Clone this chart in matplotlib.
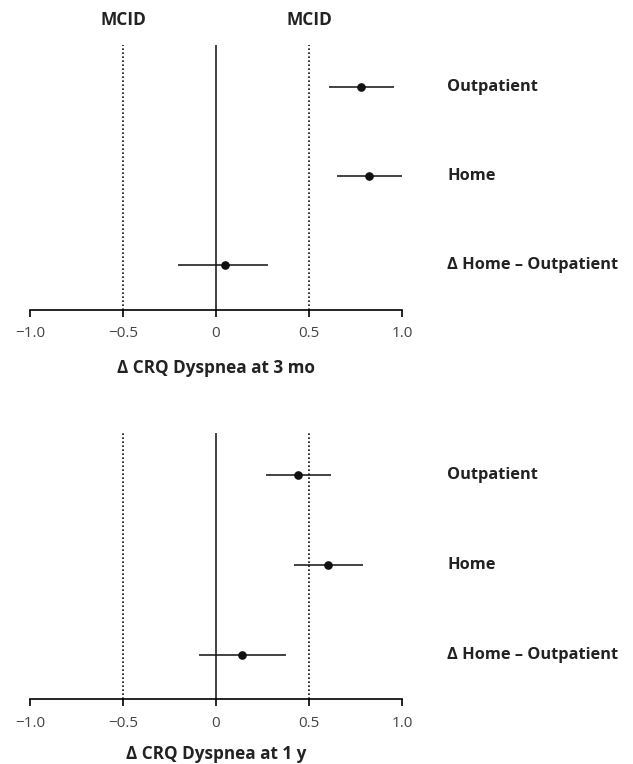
import matplotlib
matplotlib.use('Agg')
import matplotlib.pyplot as plt

plt.rcParams['font.family'] = ['Open Sans', 'DejaVu Sans']

groups = ['Outpatient', 'Home', '\u0394 Home \u2013 Outpatient']
ypos = [3, 2, 1]

# 3 months
est_3mo = [0.78, 0.824, 0.05]
lo_3mo = [0.606, 0.651, -0.205]
hi_3mo = [0.956, 0.998, 0.281]

# 1 year
est_1y = [0.44, 0.603, 0.142]
lo_1y = [0.268, 0.42, -0.094]
hi_1y = [0.616, 0.789, 0.377]

xticks = [-1.0, -0.5, 0, 0.5, 1.0]
xticklabels = ['\u22121.0', '\u22120.5', '0', '0.5', '1.0']
mcid = [-0.5, 0.5]


def panel(ax, est, lo, hi, xlabel, show_mcid=False, lpad=12.5):
  for y, e, l, h in zip(ypos, est, lo, hi):
    ax.plot([l, h], [y, y], color='#222222', lw=1.2, solid_capstyle='butt')
    ax.plot(e, y, 'o', color='#111111', ms=5.2)
  for m in mcid:
    ax.axvline(m, color='#111111', lw=1.2, ls=(0, (1.0, 1.4)))
  ax.axvline(0, color='#111111', lw=1.1)
  ax.set_xlim(-1.0, 1.0)
  ax.set_ylim(0.5, 3.47)
  for s in ['top', 'left', 'right']:
    ax.spines[s].set_visible(False)
  ax.spines['bottom'].set_linewidth(1.2)
  ax.spines['bottom'].set_bounds(-1.0, 1.0)
  ax.set_yticks([])
  ax.set_xticks(xticks)
  ax.set_xticklabels(xticklabels, fontsize=11, color='#444444')
  ax.tick_params(axis='x', length=5.3, width=1.2, pad=6.5)
  ax.set_xlabel(xlabel, fontsize=12.3, fontweight='bold', color='#222222', labelpad=lpad)
  for y, g in zip(ypos, groups):
    ax.text(1.122, y, g, transform=ax.get_yaxis_transform(), fontsize=11.8,
            fontweight='bold', color='#222222', va='center', ha='left', clip_on=False)
  if show_mcid:
    for m in mcid:
      ax.text(m, 1.094, 'MCID', transform=ax.get_xaxis_transform(), fontsize=12.5,
              fontweight='bold', color='#222222', ha='center', va='center')


fig = plt.figure(figsize=(6.33, 7.64), dpi=100)
ax1 = fig.add_axes([0.0474, 0.5942, 0.5877, 0.3469])
ax2 = fig.add_axes([0.0474, 0.0847, 0.5877, 0.3481])

panel(ax1, est_3mo, lo_3mo, hi_3mo, '\u0394 CRQ Dyspnea at 3 mo', show_mcid=True)
panel(ax2, est_1y, lo_1y, hi_1y, '\u0394 CRQ Dyspnea at 1 y', lpad=10)

fig.savefig('out.png', dpi=100)
